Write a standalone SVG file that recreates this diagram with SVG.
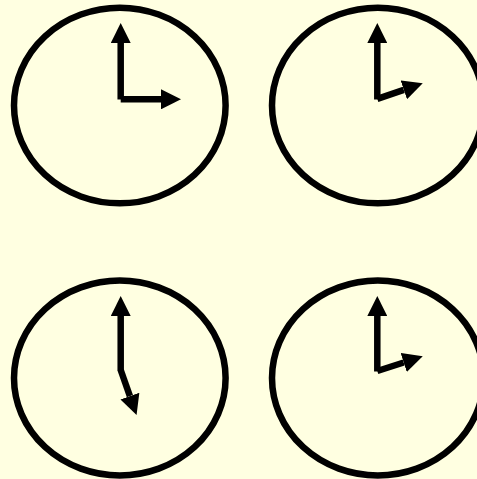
<svg xmlns="http://www.w3.org/2000/svg" width="477" height="479" viewBox="0 0 477 479">
  <style>
    .face { fill: none; stroke: #000; stroke-width: 6.5; }
    .hand { fill: none; stroke: #000; stroke-width: 6.5; stroke-linecap: butt; }
  </style>
  <defs>
    <marker id="arrow" viewBox="0 0 20 20" refX="0" refY="10" markerWidth="20" markerHeight="20" markerUnits="userSpaceOnUse" orient="auto">
      <path d="M0,0 L20,10 L0,20 Z" fill="#000"/>
    </marker>
  </defs>
  <rect width="477" height="479" fill="#FFFFE1"/>
  <g id="clock1">
    <ellipse class="face" cx="119.8" cy="105.5" rx="105.8" ry="97.8"/>
    <g class="connectors">
      <line class="hand" x1="120.7" y1="99.5" x2="120.7" y2="43" marker-end="url(#arrow)"/>
      <line class="hand" x1="120.7" y1="99.3" x2="161" y2="99.3" marker-end="url(#arrow)"/>
    </g>
  </g>
  <g id="clock2">
    <ellipse class="face" cx="377.8" cy="105.5" rx="105.8" ry="97.8"/>
    <g class="connectors">
      <line class="hand" x1="377.3" y1="99.5" x2="377.3" y2="43" marker-end="url(#arrow)"/>
      <line class="hand" x1="377.3" y1="98.8" x2="403.8" y2="89.8" marker-end="url(#arrow)"/>
    </g>
  </g>
  <g id="clock3">
    <ellipse class="face" cx="119.8" cy="378" rx="105.8" ry="97.5"/>
    <g class="connectors">
      <line class="hand" x1="120.7" y1="371" x2="120.7" y2="316" marker-end="url(#arrow)"/>
      <line class="hand" x1="120.7" y1="370" x2="129.9" y2="396.1" marker-end="url(#arrow)"/>
    </g>
  </g>
  <g id="clock4">
    <ellipse class="face" cx="377.8" cy="378" rx="105.8" ry="97.5"/>
    <g class="connectors">
      <line class="hand" x1="377.3" y1="371.5" x2="377.3" y2="316" marker-end="url(#arrow)"/>
      <line class="hand" x1="377.3" y1="371" x2="403.7" y2="362.5" marker-end="url(#arrow)"/>
    </g>
  </g>
</svg>
